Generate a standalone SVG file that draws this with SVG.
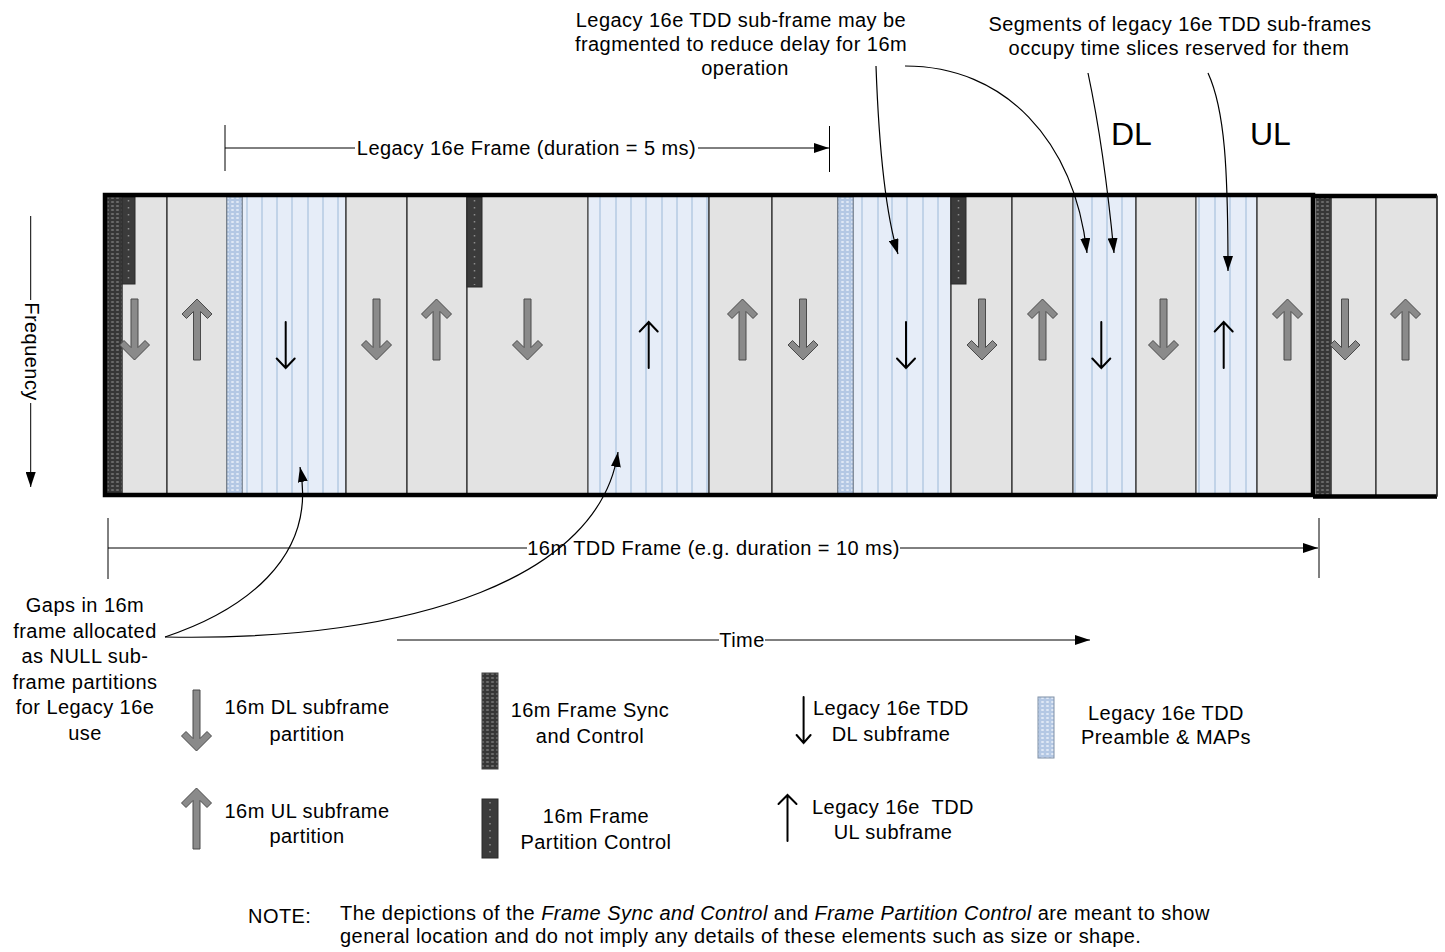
<svg xmlns="http://www.w3.org/2000/svg" width="1445" height="952" viewBox="0 0 1445 952">
<style>
text{font-family:"Liberation Sans",Arial,sans-serif;font-size:20px;letter-spacing:0.45px;fill:#000}
.big{font-size:32px;letter-spacing:0}
.c{text-anchor:middle}
.gray{fill:#e3e3e3;stroke:#333;stroke-width:1.3}
.leg{fill:#e6edf8;stroke:#555;stroke-width:1.3}
.stripe{stroke:#b8cce4;stroke-width:1.6}
.sync{fill:url(#pSync);stroke:#444;stroke-width:1}
.pre{fill:url(#pPre);stroke:#7f8fa6;stroke-width:1}
.ctrl{fill:#3b3b3b;stroke:#2a2a2a;stroke-width:1}
.dots{stroke:#8c8c8c;stroke-width:1.5;stroke-dasharray:1.5 5.5}
.blk{fill:#8a8a8a;stroke:#4a4a4a;stroke-width:1}
.thin{fill:none;stroke:#000;stroke-width:2;stroke-linecap:round}
.ln{fill:none;stroke:#000;stroke-width:1.2}
.dim{fill:none;stroke:#000;stroke-width:1}
.bord{fill:none;stroke:#000;stroke-width:4.5}
</style>
<defs>
<pattern id="pSync" width="5" height="4" patternUnits="userSpaceOnUse">
<rect width="5" height="4" fill="#363636"/>
<ellipse cx="2.5" cy="2" rx="1.7" ry="1.1" fill="#6c6c6c"/>
</pattern>
<pattern id="pPre" width="5" height="4" patternUnits="userSpaceOnUse">
<rect width="5" height="4" fill="#b4c8e4"/>
<ellipse cx="2.5" cy="2" rx="1.6" ry="1" fill="#e2eaf6"/>
</pattern>
<marker id="ah" markerWidth="15" markerHeight="10" refX="15" refY="5" orient="auto" markerUnits="userSpaceOnUse">
<path d="M0,0 L15,5 L0,10 z" fill="#000"/>
</marker>
<path id="dn" d="M-3.5,0 L3.5,0 L3.5,48.5 L10.5,41.5 L15,46 L0,61 L-15,46 L-10.5,41.5 L-3.5,48.5 Z"/>
<path id="up" d="M-3.5,61 L3.5,61 L3.5,12.5 L10.5,19.5 L15,15 L0,0 L-15,15 L-10.5,19.5 L-3.5,12.5 Z"/>
</defs>
<rect width="1445" height="952" fill="#fff"/>

<g id="frame">
<g id="col-a"><rect class="gray" x="122" y="196" width="45" height="299"/></g>
<g id="col-b"><rect class="gray" x="167" y="196" width="60" height="299"/></g>
<g id="legacy-dl-1"><rect class="leg" x="242" y="196" width="104" height="299"/>
<path class="stripe" d="M247,197V494M262,197V494M277,197V494M292,197V494M308,197V494M323,197V494M338,197V494"/></g>
<g id="col-c"><rect class="gray" x="346" y="196" width="61" height="299"/></g>
<g id="col-d"><rect class="gray" x="407" y="196" width="60" height="299"/></g>
<g id="col-e"><rect class="gray" x="467" y="196" width="121" height="299"/></g>
<g id="legacy-ul-1"><rect class="leg" x="588" y="196" width="121" height="299"/>
<path class="stripe" d="M600,197V494M616,197V494M631,197V494M646,197V494M662,197V494M677,197V494M692,197V494M707,197V494"/></g>
<g id="col-f"><rect class="gray" x="709" y="196" width="63" height="299"/></g>
<g id="col-g"><rect class="gray" x="772" y="196" width="66" height="299"/></g>
<g id="legacy-dl-2"><rect class="leg" x="853" y="196" width="98" height="299"/>
<path class="stripe" d="M862,197V494M878,197V494M892,197V494M907,197V494M923,197V494M938,197V494"/></g>
<g id="col-h"><rect class="gray" x="951" y="196" width="61" height="299"/></g>
<g id="col-i"><rect class="gray" x="1012" y="196" width="61" height="299"/></g>
<g id="legacy-dl-seg"><rect class="leg" x="1073" y="196" width="63" height="299"/>
<path class="stripe" d="M1075,197V494M1092,197V494M1107,197V494M1122,197V494"/></g>
<g id="col-j"><rect class="gray" x="1136" y="196" width="60" height="299"/></g>
<g id="legacy-ul-seg"><rect class="leg" x="1196" y="196" width="61" height="299"/>
<path class="stripe" d="M1199,197V494M1215,197V494M1230,197V494M1246,197V494"/></g>
<g id="col-k"><rect class="gray" x="1257" y="196" width="56" height="299"/></g>
<g id="col-l"><rect class="gray" x="1331" y="196" width="45" height="300"/></g>
<g id="col-m"><rect class="gray" x="1376" y="196" width="61" height="300"/></g>

<g id="sync-1"><rect class="sync" x="107" y="197" width="15" height="297"/></g>
<g id="sync-2"><rect class="sync" x="1316" y="197" width="15" height="298"/></g>
<g id="preamble-1"><rect class="pre" x="227" y="197" width="15" height="297"/></g>
<g id="preamble-2"><rect class="pre" x="838" y="197" width="15" height="297"/></g>
<g id="ctrl-1"><rect class="ctrl" x="122" y="197" width="13" height="87"/><path class="dots" d="M128.5,200V282"/></g>
<g id="ctrl-2"><rect class="ctrl" x="467" y="197" width="15" height="90"/><path class="dots" d="M474.5,200V285"/></g>
<g id="ctrl-3"><rect class="ctrl" x="951" y="197" width="15" height="87"/><path class="dots" d="M958.5,200V282"/></g>

<g id="arrows16m">
<use href="#dn" class="blk" transform="translate(134.5,299)"/>
<use href="#up" class="blk" transform="translate(197,299)"/>
<use href="#dn" class="blk" transform="translate(376.5,299)"/>
<use href="#up" class="blk" transform="translate(436.5,299)"/>
<use href="#dn" class="blk" transform="translate(527.5,299)"/>
<use href="#up" class="blk" transform="translate(742.5,299)"/>
<use href="#dn" class="blk" transform="translate(803,299)"/>
<use href="#dn" class="blk" transform="translate(982,299)"/>
<use href="#up" class="blk" transform="translate(1042.5,299)"/>
<use href="#dn" class="blk" transform="translate(1163.5,299)"/>
<use href="#up" class="blk" transform="translate(1287.5,299)"/>
<use href="#dn" class="blk" transform="translate(1345,299)"/>
<use href="#up" class="blk" transform="translate(1405.5,299)"/>
</g>
<g id="arrowsLegacy">
<path class="thin" d="M285.7,322V368M276.7,358.5L285.7,368L294.7,358.5"/>
<path class="thin" d="M648.7,368V322M639.7,331.5L648.7,322L657.7,331.5"/>
<path class="thin" d="M906,322V368M897,358.5L906,368L915,358.5"/>
<path class="thin" d="M1101.3,322V368M1092.3,358.5L1101.3,368L1110.3,358.5"/>
<path class="thin" d="M1223.7,368V322M1214.7,331.5L1223.7,322L1232.7,331.5"/>
</g>
<g id="frame-border">
<rect class="bord" x="105" y="195" width="1208" height="300"/>
<path class="bord" d="M1313,196H1437M1313,496.5H1437"/>
<path d="M1437,196V496.5" stroke="#333" stroke-width="1.3"/>
</g>
</g>

<g id="connectors">
<path class="dim" d="M225,125V171M225,148H355M698,148H829" marker-end="url(#ah)"/>
<path class="dim" d="M829.5,126V172"/>
<path class="dim" d="M108,518V579M108,548H527M900,548H1318" marker-end="url(#ah)"/>
<path class="dim" d="M1319,518V578"/>
<path class="dim" d="M397,640H719M765,640H1090" marker-end="url(#ah)"/>
<path class="dim" d="M30.7,216V300M30.7,403V487" marker-end="url(#ah)"/>
<path class="ln" d="M876,66C879,150 886,215 898,254" marker-end="url(#ah)"/>
<path class="ln" d="M905,66C1005,66 1074,140 1087,253" marker-end="url(#ah)"/>
<path class="ln" d="M1088,73C1098,120 1108,190 1114,253" marker-end="url(#ah)"/>
<path class="ln" d="M1208,73C1225,110 1228,170 1228,271" marker-end="url(#ah)"/>
<path class="ln" d="M165,637C240,612 318,560 300,467" marker-end="url(#ah)"/>
<path class="ln" d="M165,637C420,642 600,575 618,452" marker-end="url(#ah)"/>
</g>

<g id="labels">
<text x="526.5" y="155" class="c">Legacy 16e Frame (duration = 5 ms)</text>
<text x="713.5" y="555" class="c">16m TDD Frame (e.g. duration = 10 ms)</text>
<text x="742" y="647" class="c">Time</text>
<text class="c" transform="translate(25,351.5) rotate(90)">Frequency</text>
<text class="c"><tspan x="741" y="27">Legacy 16e TDD sub-frame may be</tspan><tspan x="741" y="51">fragmented to reduce delay for 16m</tspan><tspan x="745" y="75">operation</tspan></text>
<text class="c"><tspan x="1180" y="31">Segments of legacy 16e TDD sub-frames</tspan><tspan x="1179" y="55">occupy time slices reserved for them</tspan></text>
<text x="1111" y="145" class="big">DL</text>
<text x="1250" y="145" class="big">UL</text>
<text class="c"><tspan x="85" y="612">Gaps in 16m</tspan><tspan x="85" y="637.5">frame allocated</tspan><tspan x="85" y="663">as NULL sub-</tspan><tspan x="85" y="688.5">frame partitions</tspan><tspan x="85" y="714">for Legacy 16e</tspan><tspan x="85" y="739.5">use</tspan></text>
</g>

<g id="legend-dl16m">
<use href="#dn" class="blk" transform="translate(196.5,690)"/>
<text class="c"><tspan x="307" y="713.5">16m DL subframe</tspan><tspan x="307" y="740.5">partition</tspan></text>
</g>
<g id="legend-ul16m">
<use href="#up" class="blk" transform="translate(196.5,788)"/>
<text class="c"><tspan x="307" y="818">16m UL subframe</tspan><tspan x="307" y="843">partition</tspan></text>
</g>
<g id="legend-sync">
<rect class="sync" x="482" y="673" width="16" height="96"/>
<text class="c"><tspan x="590" y="717">16m Frame Sync</tspan><tspan x="590" y="742.5">and Control</tspan></text>
</g>
<g id="legend-ctrl">
<rect class="ctrl" x="482" y="799" width="16" height="59"/><path class="dots" d="M490,802V856"/>
<text class="c"><tspan x="596" y="822.5">16m Frame</tspan><tspan x="596" y="848.5">Partition Control</tspan></text>
</g>
<g id="legend-legacy-dl">
<path class="thin" d="M803.6,697V743M796.6,735L803.6,743L810.6,735"/>
<text class="c"><tspan x="891" y="714.5">Legacy 16e TDD</tspan><tspan x="891" y="740.5">DL subframe</tspan></text>
</g>
<g id="legend-legacy-ul">
<path class="thin" d="M787.5,841V795M778.5,804L787.5,795L796.5,804"/>
<text class="c"><tspan x="893" y="814" xml:space="preserve">Legacy 16e  TDD</tspan><tspan x="893" y="839">UL subframe</tspan></text>
</g>
<g id="legend-preamble">
<rect class="pre" x="1038" y="697" width="16" height="61"/>
<text class="c"><tspan x="1166" y="720">Legacy 16e TDD</tspan><tspan x="1166" y="744">Preamble &amp; MAPs</tspan></text>
</g>

<g id="note">
<text x="248" y="923">NOTE:</text>
<text x="340" y="920">The depictions of the <tspan font-style="italic">Frame Sync and Control</tspan> and <tspan font-style="italic">Frame Partition Control</tspan> are meant to show</text>
<text x="340" y="943">general location and do not imply any details of these elements such as size or shape.</text>
</g>
</svg>
